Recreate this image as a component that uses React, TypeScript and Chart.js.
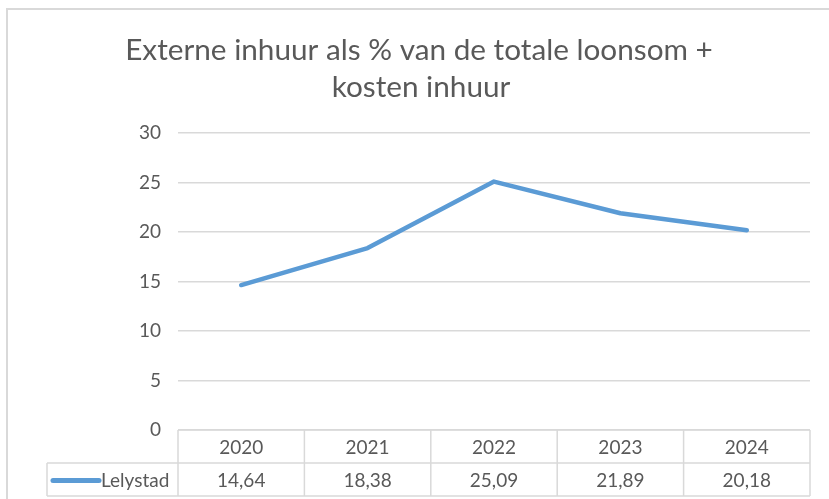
import React, { useEffect, useRef } from "react";
import { Chart, registerables } from "chart.js";

Chart.register(...registerables);

const titleLines = ["Externe inhuur als % van de totale loonsom +", "kosten inhuur"];
const years = ["2020", "2021", "2022", "2023", "2024"];
const seriesName = "Lelystad";
const lelystad = [14.64, 18.38, 25.09, 21.89, 20.18];
const yMin = 0;
const yMax = 30;
const yStep = 5;

const GRID = "#d9d9d9";
const TEXT = "#595959";
const BLUE = "#5b9bd5";
const FONT = "Lato, 'Open Sans', sans-serif";

const fmt = (v: number) => v.toFixed(2).replace(".", ",");

const excelPlugin = {
  id: "excelTable",
  beforeDraw(chart: any) {
    const ctx = chart.ctx as CanvasRenderingContext2D;
    ctx.save();
    ctx.fillStyle = "#ffffff";
    ctx.fillRect(0, 0, chart.width, chart.height);
    // outer frame
    ctx.strokeStyle = GRID;
    ctx.lineWidth = 2;
    ctx.beginPath();
    ctx.moveTo(7, chart.height);
    ctx.lineTo(7, 9);
    ctx.lineTo(chart.width, 9);
    ctx.stroke();
    // title
    ctx.fillStyle = TEXT;
    ctx.textAlign = "center";
    ctx.textBaseline = "alphabetic";
    let size = 26;
    ctx.font = `${size}px ${FONT}`;
    const w = ctx.measureText(titleLines[0]).width;
    size = size * (588 / w);
    ctx.font = `${size}px ${FONT}`;
    ctx.fillText(titleLines[0], 419, 60);
    ctx.fillText(titleLines[1], 421, 97);
    ctx.restore();
  },
  afterDraw(chart: any) {
    const ctx = chart.ctx as CanvasRenderingContext2D;
    const area = chart.chartArea;
    const xs = chart.scales.x;
    const n = years.length;
    const cw = (area.right - area.left) / n;
    const rowH = 33;
    const top = area.bottom;
    const mid = top + rowH;
    const bot = top + rowH * 2;
    const legendLeft = 47;
    ctx.save();
    ctx.strokeStyle = GRID;
    ctx.lineWidth = 1.5;
    ctx.beginPath();
    // horizontal lines
    ctx.moveTo(area.left, top);
    ctx.lineTo(area.right, top);
    ctx.moveTo(legendLeft, mid);
    ctx.lineTo(area.right, mid);
    ctx.moveTo(legendLeft, bot);
    ctx.lineTo(area.right, bot);
    // vertical lines
    for (let i = 0; i <= n; i++) {
      const x = area.left + i * cw;
      ctx.moveTo(x, top);
      ctx.lineTo(x, bot);
    }
    ctx.moveTo(legendLeft, mid);
    ctx.lineTo(legendLeft, bot);
    ctx.stroke();

    ctx.fillStyle = TEXT;
    ctx.font = `19px ${FONT}`;
    ctx.textAlign = "center";
    ctx.textBaseline = "middle";
    years.forEach((y, i) => {
      const x = xs.getPixelForValue(i);
      ctx.fillText(y, x, top + rowH / 2 + 1);
      ctx.fillText(fmt(lelystad[i]), x, mid + rowH / 2 + 1);
    });

    // legend key
    ctx.strokeStyle = BLUE;
    ctx.lineWidth = 5;
    ctx.lineCap = "round";
    ctx.beginPath();
    ctx.moveTo(53, mid + rowH / 2 + 1);
    ctx.lineTo(99, mid + rowH / 2 + 1);
    ctx.stroke();
    ctx.textAlign = "left";
    ctx.fillText(seriesName, 101, mid + rowH / 2 + 1);
    ctx.restore();
  },
};

export default function App() {
  const ref = useRef<HTMLCanvasElement>(null);
  useEffect(() => {
    if (!ref.current) return;
    const chart = new Chart(ref.current, {
      type: "line",
      data: {
        labels: years,
        datasets: [
          {
            label: seriesName,
            data: lelystad,
            borderColor: BLUE,
            backgroundColor: BLUE,
            borderWidth: 4.5,
            pointRadius: 0,
            tension: 0,
            borderCapStyle: "round",
            borderJoinStyle: "round",
          },
        ],
      },
      options: {
        animation: false,
        responsive: false,
        devicePixelRatio: 1,
        layout: { padding: { top: 133, bottom: 69, left: 0, right: 19 } },
        plugins: {
          legend: { display: false },
          title: { display: false },
          tooltip: { enabled: false },
        },
        scales: {
          x: {
            type: "category",
            display: false,
            offset: true,
          },
          y: {
            min: yMin,
            max: yMax,
            afterFit: (s: any) => {
              s.width = 178;
            },
            ticks: {
              stepSize: yStep,
              color: TEXT,
              padding: 17,
              font: { family: FONT, size: 19 },
            },
            grid: {
              color: GRID,
              lineWidth: 1.5,
              drawTicks: false,
            },
            border: { display: false },
          },
        },
      },
      plugins: [excelPlugin],
    });
    return () => chart.destroy();
  }, []);
  return (
    <div style={{ position: "absolute", left: 0, top: 0, width: 829, height: 499 }}>
      <canvas ref={ref} width={829} height={499} style={{ display: "block" }} />
    </div>
  );
}
